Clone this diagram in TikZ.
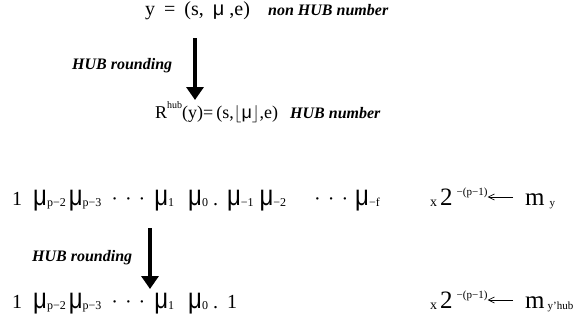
\documentclass[tikz,border=0pt]{standalone}
\usepackage{fontspec}
\setmainfont{Liberation Serif}
\setsansfont{Liberation Sans}
\usetikzlibrary{arrows.meta,positioning}

% small lowered / raised indices
\newcommand{\lo}[2][12]{\raisebox{-1pt}{\fontsize{#1}{#1}\selectfont #2}}
\newcommand{\hi}[2][11]{\raisebox{10pt}{\fontsize{#1}{#1}\selectfont #2}}
% tall upright mu of the significand digits
\newcommand{\mub}{\scalebox{1.2}[1.45]{\sffamily μ}}
\newcommand{\dts}{·\hspace{7pt}·\hspace{7pt}·}

\tikzset{
  expr/.style={inner sep=0pt, anchor=base west, font=\fontsize{20}{20}\selectfont},
  note/.style={inner sep=0pt, anchor=base west, font=\fontsize{16}{16}\selectfont\bfseries\itshape},
  bits/.style={inner sep=0pt, anchor=base west, font=\fontsize{20}{20}\selectfont},
  scalebox/.style={inner sep=0pt, anchor=base west, font=\fontsize{25}{25}\selectfont},
  round arrow/.style={-{Triangle[width=17pt,length=13pt]}, line width=4pt},
  thin arrow/.style={-{Straight Barb[length=6pt,width=6pt]}, line width=0.7pt, shorten <=12pt}
}

\begin{document}
\begin{tikzpicture}[x=1pt,y=-1pt]
\useasboundingbox (0,0) rectangle (577,332);

% value and its HUB rounding
\node[expr] (orig) at (145,15) {y\hspace{9pt}=\hspace{9pt}(s,\hspace{9pt}{\sffamily μ}\hspace{5pt},e)};
\node[note] (orignote) at (268,15) {non HUB number};
\node[note] (round1) at (72,69) {HUB rounding};
\node[expr, font=\fontsize{18}{18}\selectfont] (hub) at (155,118)
  {R\hi[10]{hub}(y)=\hspace{3pt}(s,$\lfloor${\sffamily μ}$\rfloor$,e)};
\node[note] (hubnote) at (290,118) {HUB number};
\coordinate (a1s) at (195,38);
\coordinate (a1e) at (195,100);
\draw[round arrow] (a1s) -- (a1e);

% significands
\node[bits] (full) at (12,205) {1\hspace{11pt}\mub\lo{p−2}\hspace{3pt}\mub\lo{p−3}\hspace{10pt}\dts\hspace{9pt}\mub\lo{1}\hspace{14pt}\mub\lo{0}\hspace{5pt}.\hspace{9pt}\mub\lo{−1}\hspace{6pt}\mub\lo{−2}\hspace{28pt}\dts\hspace{7pt}\mub\lo{−f}};
\node[scalebox] (sc1) at (430,205) {\lo[14]{x}\hspace{3pt}2\hspace{4pt}\hi{−(p−1)}};
\node[scalebox] (my) at (525,205) {m\hspace{5pt}\lo[11]{y}};
\draw[thin arrow] ([yshift=8pt]my.base west) -- ([yshift=8pt]sc1.base east);

\node[note] (round2) at (32,261) {HUB rounding};
\coordinate (a2s) at (150,228);
\coordinate (a2e) at (150,289);
\draw[round arrow] (a2s) -- (a2e);

\node[bits] (short) at (12,308) {1\hspace{11pt}\mub\lo{p−2}\hspace{3pt}\mub\lo{p−3}\hspace{10pt}\dts\hspace{9pt}\mub\lo{1}\hspace{14pt}\mub\lo{0}\hspace{5pt}.\hspace{9pt}1};
\node[scalebox] (sc2) at (430,308) {\lo[14]{x}\hspace{3pt}2\hspace{4pt}\hi{−(p−1)}};
\node[scalebox] (myhub) at (525,308) {m\hspace{3pt}\lo[11]{y’hub}};
\draw[thin arrow] ([yshift=8pt]myhub.base west) -- ([yshift=8pt]sc2.base east);
\end{tikzpicture}
\end{document}
